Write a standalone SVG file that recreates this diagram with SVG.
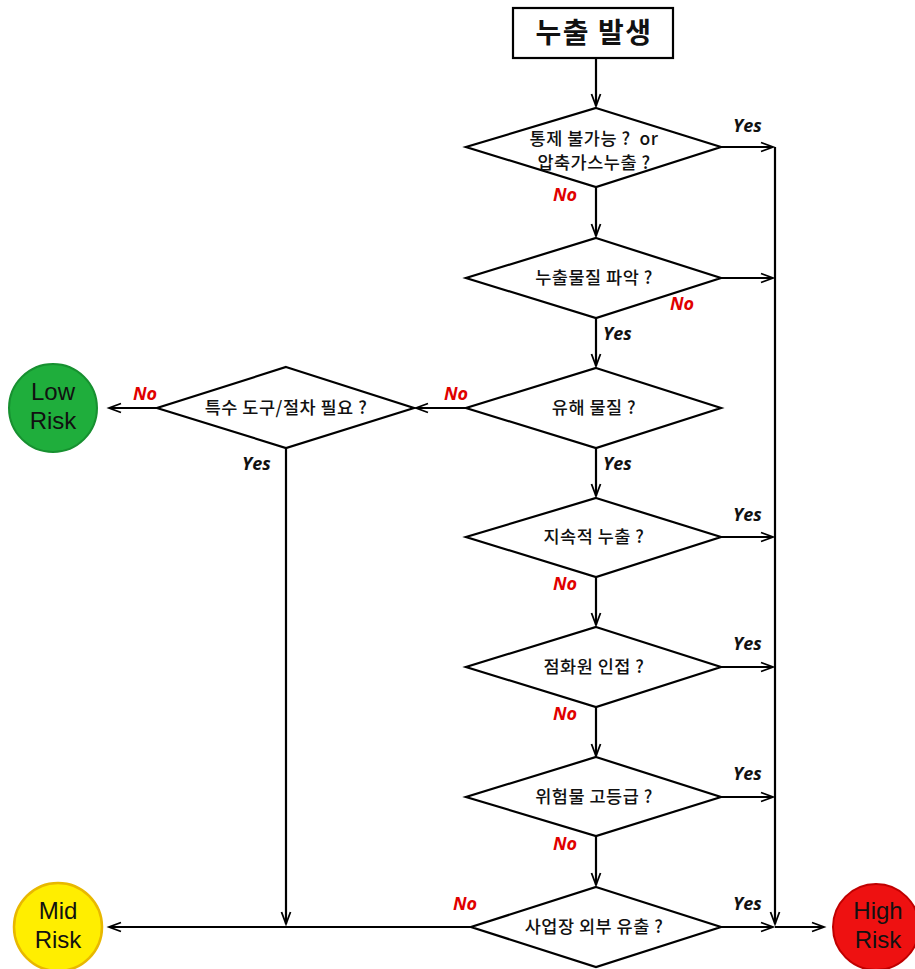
<svg xmlns="http://www.w3.org/2000/svg" width="915" height="969" viewBox="0 0 915 969">
<defs>
<marker id="ah" markerUnits="userSpaceOnUse" markerWidth="16" markerHeight="12" refX="13" refY="6" orient="auto">
<path d="M1,1.5 L13,6 L1,10.5" fill="none" stroke="#000" stroke-width="1.8"/>
</marker>
</defs>
<style>
.d{fill:#fff;stroke:#000;stroke-width:2.2}
.t{font-family:"Noto Sans CJK KR","Liberation Sans",sans-serif;font-size:17.5px;font-weight:500;letter-spacing:0.5px;fill:#111;text-anchor:middle}
.c{fill:none;stroke:#000;stroke-width:2.2}
.y{font-family:"Open Sans","Liberation Sans",sans-serif;font-size:18px;font-style:italic;font-weight:bold;fill:#111}
.n{font-family:"Open Sans","Liberation Sans",sans-serif;font-size:18px;font-style:italic;font-weight:bold;fill:#e00000}
.r{font-family:"Liberation Sans",Arial,sans-serif;font-size:24px;fill:#111;text-anchor:middle}
</style>
<rect width="915" height="969" fill="#fff"/>
<g id="connectors">
<path class="c" d="M596,58 V106" marker-end="url(#ah)"/>
<path class="c" d="M596,188 V236" marker-end="url(#ah)"/>
<path class="c" d="M596,318 V366" marker-end="url(#ah)"/>
<path class="c" d="M596,448 V496" marker-end="url(#ah)"/>
<path class="c" d="M596,578 V625" marker-end="url(#ah)"/>
<path class="c" d="M596,707 V756" marker-end="url(#ah)"/>
<path class="c" d="M596,836 V885" marker-end="url(#ah)"/>
<path class="c" d="M721,147 H773" marker-end="url(#ah)"/>
<path class="c" d="M721,278 H773" marker-end="url(#ah)"/>
<path class="c" d="M721,537 H773" marker-end="url(#ah)"/>
<path class="c" d="M721,667 H773" marker-end="url(#ah)"/>
<path class="c" d="M721,797 H773" marker-end="url(#ah)"/>
<path class="c" d="M721,927 H773" marker-end="url(#ah)"/>
<path class="c" d="M775,147 V924" marker-end="url(#ah)"/>
<path class="c" d="M775,927 H824" marker-end="url(#ah)"/>
<path class="c" d="M466,408 H416" marker-end="url(#ah)"/>
<path class="c" d="M157,408 H109" marker-end="url(#ah)"/>
<path class="c" d="M286,448 V924" marker-end="url(#ah)"/>
<path class="c" d="M471,927 H109" marker-end="url(#ah)"/>
</g>
<g id="start">
<rect x="513" y="8" width="160" height="50" fill="#fff" stroke="#000" stroke-width="2.2"/>
<text x="594" y="43" font-family="Noto Sans CJK KR,Liberation Sans,sans-serif" font-size="28" font-weight="bold" letter-spacing="1.5" text-anchor="middle" fill="#111">누출 발생</text>
</g>
<g id="d1">
<polygon class="d" points="596,108 721,147 596,187 466,147"/>
<text class="t" x="594" y="145">통제 불가능 ?&#160;&#160;or</text>
<text class="t" x="594" y="169">압축가스누출 ?</text>
</g>
<g id="d2">
<polygon class="d" points="596,238 721,278 596,318 466,278"/>
<text class="t" x="594" y="284">누출물질 파악 ?</text>
</g>
<g id="d3">
<polygon class="d" points="596,368 721,408 596,448 466,408"/>
<text class="t" x="594" y="414">유해 물질 ?</text>
</g>
<g id="dl">
<polygon class="d" points="286,367 414,408 286,448 157,408"/>
<text class="t" x="286" y="414">특수 도구/절차 필요 ?</text>
</g>
<g id="d4">
<polygon class="d" points="596,498 721,537 596,577 466,537"/>
<text class="t" x="594" y="543">지속적 누출 ?</text>
</g>
<g id="d5">
<polygon class="d" points="596,627 721,667 596,707 466,667"/>
<text class="t" x="594" y="673">점화원 인접 ?</text>
</g>
<g id="d6">
<polygon class="d" points="596,757 721,797 596,836 466,797"/>
<text class="t" x="594" y="803">위험물 고등급 ?</text>
</g>
<g id="d7">
<polygon class="d" points="596,887 721,927 596,967 471,927"/>
<text class="t" x="594" y="933">사업장 외부 유출 ?</text>
</g>
<g id="low">
<circle cx="53" cy="408" r="44" fill="#1fae3c" stroke="#179030" stroke-width="2"/>
<text class="r" x="53" y="400">Low</text>
<text class="r" x="53" y="429">Risk</text>
</g>
<g id="mid">
<circle cx="58" cy="927" r="44" fill="#ffee00" stroke="#e8b800" stroke-width="2.5"/>
<text class="r" x="58" y="919">Mid</text>
<text class="r" x="58" y="948">Risk</text>
</g>
<g id="high">
<circle cx="876" cy="927" r="43" fill="#ee1111" stroke="#c00000" stroke-width="2"/>
<text class="r" x="878" y="919">High</text>
<text class="r" x="878" y="948">Risk</text>
</g>
<g id="labels">
<text class="y" x="733" y="132">Yes</text>
<text class="n" x="553" y="201">No</text>
<text class="n" x="670" y="310">No</text>
<text class="y" x="603" y="340">Yes</text>
<text class="n" x="444" y="400">No</text>
<text class="y" x="603" y="470">Yes</text>
<text class="n" x="133" y="400">No</text>
<text class="y" x="242" y="470">Yes</text>
<text class="y" x="733" y="521">Yes</text>
<text class="n" x="553" y="590">No</text>
<text class="y" x="733" y="650">Yes</text>
<text class="n" x="553" y="720">No</text>
<text class="y" x="733" y="780">Yes</text>
<text class="n" x="553" y="850">No</text>
<text class="y" x="733" y="910">Yes</text>
<text class="n" x="453" y="910">No</text>
</g>
</svg>
